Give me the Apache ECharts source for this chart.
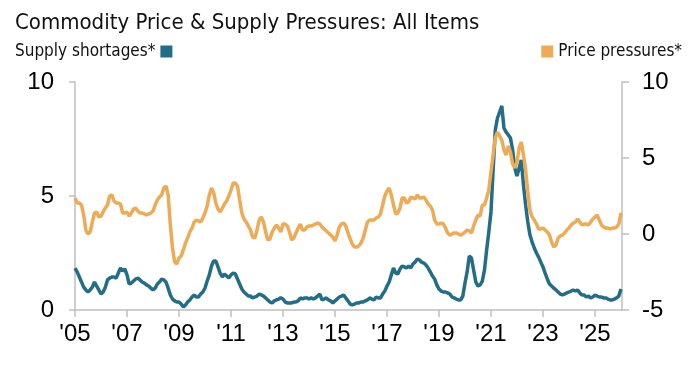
<!DOCTYPE html>
<html>
<head>
<meta charset="utf-8">
<script src="https://cdn.jsdelivr.net/npm/echarts@6/dist/echarts.min.js"></script>
<style>html,body{margin:0;padding:0;background:#fff;}#c{width:695px;height:373px;}</style>
</head>
<body>
<div id="c"></div>
<script>
// Monthly data, Jan 2005 .. Jan 2026
var startYear = 2005;
var supplyShortages = [
1.84,1.67,1.45,1.23,1.0,0.88,0.79,0.88,1.0,1.23,
1.05,0.88,0.7,0.79,1.0,1.32,1.4,1.45,1.45,1.4,
1.62,1.84,1.71,1.8,1.54,1.14,1.18,1.27,1.36,1.4,
1.32,1.23,1.18,1.1,1.05,0.96,0.88,0.96,1.14,1.23,
1.36,1.32,1.23,0.96,0.66,0.48,0.4,0.35,0.35,0.26,
0.13,0.22,0.35,0.44,0.57,0.66,0.57,0.57,0.7,0.79,
0.96,1.27,1.54,1.93,2.15,2.15,1.89,1.62,1.45,1.58,
1.49,1.4,1.54,1.62,1.58,1.36,1.14,0.92,0.79,0.7,
0.61,0.61,0.53,0.57,0.61,0.7,0.66,0.61,0.53,0.44,
0.35,0.31,0.4,0.44,0.48,0.53,0.48,0.35,0.31,0.31,
0.31,0.35,0.35,0.4,0.53,0.48,0.53,0.53,0.48,0.53,
0.48,0.53,0.61,0.7,0.44,0.48,0.53,0.44,0.4,0.31,
0.4,0.48,0.57,0.61,0.66,0.53,0.4,0.26,0.22,0.26,
0.31,0.31,0.35,0.35,0.4,0.44,0.53,0.48,0.44,0.57,
0.53,0.53,0.7,0.83,1.05,1.23,1.54,1.84,1.62,1.58,
1.8,1.93,1.89,1.84,1.93,1.84,2.02,2.1,2.24,2.19,
2.1,2.06,1.97,1.84,1.67,1.49,1.36,1.1,0.92,0.83,
0.79,0.79,0.75,0.7,0.57,0.53,0.48,0.44,0.44,0.61,
1.18,1.67,2.37,2.28,1.75,1.23,1.05,1.1,1.27,1.75,
2.63,3.42,4.3,6.14,7.9,8.42,8.68,8.95,7.98,7.8,
7.68,7.54,7.02,6.23,5.88,6.23,6.58,5.48,4.6,3.86,
3.29,2.98,2.72,2.5,2.32,2.1,1.89,1.62,1.36,1.14,
1.05,0.96,0.88,0.79,0.7,0.66,0.7,0.75,0.79,0.83,
0.88,0.83,0.88,0.75,0.66,0.66,0.57,0.61,0.53,0.57,
0.66,0.61,0.57,0.57,0.53,0.53,0.48,0.44,0.44,0.48,
0.53,0.61,0.92
];
var pricePressures = [
2.37,2.04,2.04,1.91,1.25,0.26,0.0,0.13,0.79,1.38,
1.45,1.12,1.18,1.45,1.71,1.91,2.5,2.57,2.17,2.04,
2.04,1.97,1.38,1.38,1.45,1.18,1.38,1.64,1.71,1.51,
1.38,1.38,1.32,1.25,1.32,1.38,1.51,1.91,2.24,2.43,
2.57,3.03,3.16,2.57,0.59,-0.92,-1.84,-1.97,-1.58,-1.45,
-1.05,-0.59,-0.26,0.13,0.39,0.79,0.92,0.86,0.79,1.05,
1.38,1.84,2.57,3.03,2.7,2.04,1.64,1.45,1.71,1.97,
2.17,2.5,2.89,3.36,3.36,3.16,2.24,1.38,0.99,0.79,
0.53,0.26,-0.2,-0.26,0.26,0.92,1.12,0.79,0.13,-0.39,
-0.33,0.13,0.39,0.59,0.39,0.13,0.66,0.66,0.53,0.13,
-0.39,-0.26,0.07,0.39,0.66,0.26,0.26,0.46,0.53,0.53,
0.59,0.66,0.72,0.66,0.46,0.33,0.2,0.07,-0.07,-0.2,
-0.46,-0.07,0.46,0.66,0.72,0.53,0.07,-0.33,-0.66,-0.86,
-0.86,-0.79,-0.59,-0.26,0.26,0.79,0.92,0.92,0.92,1.05,
1.12,1.32,1.91,2.5,2.83,3.03,2.57,1.91,1.32,1.38,
1.71,2.37,2.37,2.04,2.11,2.43,2.37,2.3,2.57,2.37,
2.37,2.43,2.24,1.97,1.84,1.58,0.92,0.66,0.66,0.72,
0.66,0.39,0.07,-0.07,0.0,0.07,0.07,0.0,-0.07,0.0,
0.13,0.26,0.2,0.07,0.53,0.92,1.25,1.18,1.91,1.91,
2.37,2.89,4.08,5.2,6.32,6.71,6.45,6.18,5.53,5.2,
5.79,5.39,4.61,4.34,4.74,5.66,6.05,5.2,4.21,2.76,
1.58,1.12,0.92,0.66,0.33,0.33,0.39,0.26,0.13,-0.07,
-0.53,-0.86,-0.72,-0.26,-0.13,-0.07,0.07,0.26,0.39,0.59,
0.72,0.79,0.99,0.79,0.59,0.66,0.66,0.59,0.79,0.99,
1.12,1.25,0.92,0.59,0.46,0.39,0.39,0.33,0.39,0.39,
0.46,0.66,1.38
];
var titleText = 'Commodity Price & Supply Pressures: All Items';
var seriesNames = ['Supply shortages*', 'Price pressures*'];
var leftTicks = [0, 5, 10];
var rightTicks = [-5, 0, 5, 10];

var BLUE = '#236d87';
var ORANGE = '#eeaa55';
var AXIS = '#bfbfbf';
var NARROW = "'DejaVu Sans Condensed','Liberation Sans Narrow',sans-serif";
var LAB = "'Liberation Sans',Arial,sans-serif";

function toPairs(arr) { return arr.map(function (v, i) { return [i / 12, v]; }); }

var chart = echarts.init(document.getElementById('c'), null, {renderer: 'canvas'});
chart.setOption({
  animation: false,
  backgroundColor: '#fff',
  title: {
    text: titleText, left: 10, top: 7,
    textStyle: {fontFamily: NARROW, fontSize: 22, fontWeight: 'normal', color: '#111'}
  },
  legend: [
    {data: [seriesNames[0]], left: 10, top: 38, align: 'right', icon: 'rect',
     itemWidth: 12, itemHeight: 12, itemGap: 6,
     textStyle: {fontFamily: NARROW, fontSize: 17, color: '#111'}},
    {data: [seriesNames[1]], right: 8, top: 38, align: 'left', icon: 'rect',
     itemWidth: 12, itemHeight: 12, itemGap: 6,
     textStyle: {fontFamily: NARROW, fontSize: 17, color: '#111'}}
  ],
  grid: {left: 75, right: 73, top: 82, bottom: 63, containLabel: false},
  xAxis: {
    type: 'value', min: 0, max: 21.04, interval: 2,
    axisLine: {show: true, lineStyle: {color: AXIS, width: 1.5}},
    axisTick: {show: true, length: 7, lineStyle: {color: AXIS, width: 1.5}},
    splitLine: {show: false},
    axisLabel: {
      margin: 12, color: '#000', fontFamily: LAB, fontSize: 24, showMaxLabel: false,
      formatter: function (v) {
        if (Math.abs(v - Math.round(v)) > 1e-6) return '';
        var y = (startYear + Math.round(v)) % 100;
        return "'" + (y < 10 ? '0' + y : '' + y);
      }
    }
  },
  yAxis: [
    {type: 'value', min: leftTicks[0], max: leftTicks[leftTicks.length - 1], interval: 5, position: 'left',
     axisLine: {show: true, lineStyle: {color: AXIS, width: 1.5}},
     axisTick: {show: true, length: 6, lineStyle: {color: AXIS, width: 1.5}},
     splitLine: {show: false},
     axisLabel: {margin: 21, color: '#000', fontFamily: LAB, fontSize: 24}},
    {type: 'value', min: rightTicks[0], max: rightTicks[rightTicks.length - 1], interval: 5, position: 'right',
     axisLine: {show: true, lineStyle: {color: AXIS, width: 1.5}},
     axisTick: {show: true, length: 7, lineStyle: {color: AXIS, width: 1.5}},
     splitLine: {show: false},
     axisLabel: {margin: 20, color: '#000', fontFamily: LAB, fontSize: 24}}
  ],
  series: [
    {name: seriesNames[0], type: 'line', yAxisIndex: 0, data: toPairs(supplyShortages),
     showSymbol: false, symbol: 'none', smooth: false,
     itemStyle: {color: BLUE}, lineStyle: {color: BLUE, width: 3.5}},
    {name: seriesNames[1], type: 'line', yAxisIndex: 1, data: toPairs(pricePressures),
     showSymbol: false, symbol: 'none', smooth: false,
     itemStyle: {color: ORANGE}, lineStyle: {color: ORANGE, width: 3.5}}
  ]
});
</script>
</body>
</html>
